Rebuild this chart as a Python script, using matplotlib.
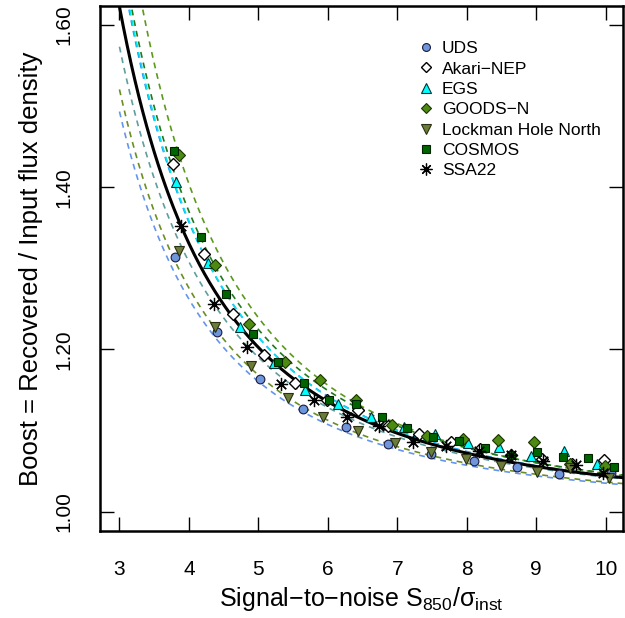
import numpy as np
import matplotlib
matplotlib.use("Agg")
import matplotlib.pyplot as plt

plt.rcParams['font.family'] = ['Liberation Sans', 'DejaVu Sans']
plt.rcParams['mathtext.fontset'] = 'custom'
plt.rcParams['mathtext.rm'] = 'Liberation Sans'
plt.rcParams['mathtext.it'] = 'Liberation Sans'

# ---- data ----
uds_x = [3.80, 4.41, 5.02, 5.64, 6.26, 6.87, 7.49, 8.10, 8.72, 9.33, 10.08]
uds_y = [1.314, 1.221, 1.164, 1.126, 1.104, 1.083, 1.071, 1.0625, 1.055, 1.0465, 1.048]

akari_x = [3.77, 4.22, 4.64, 5.08, 5.53, 5.99, 6.43, 6.87, 7.31, 7.77, 8.19, 8.63, 9.09, 9.51, 9.97]
akari_y = [1.429, 1.317, 1.243, 1.193, 1.158, 1.138, 1.125, 1.105, 1.095, 1.086, 1.077, 1.070, 1.065, 1.058, 1.064]

egs_x = [3.82, 4.27, 4.73, 5.22, 5.67, 6.14, 6.62, 7.09, 7.54, 8.02, 8.47, 8.93, 9.40, 9.87]
egs_y = [1.406, 1.307, 1.227, 1.183, 1.150, 1.133, 1.116, 1.104, 1.095, 1.085, 1.079, 1.069, 1.075, 1.059]

goodsn_x = [3.86, 4.37, 4.87, 5.39, 5.89, 6.41, 6.92, 7.43, 7.95, 8.45, 8.97, 9.49, 9.99]
goodsn_y = [1.440, 1.304, 1.231, 1.185, 1.162, 1.137, 1.107, 1.093, 1.089, 1.088, 1.086, 1.058, 1.056]

lhn_x = [3.86, 4.38, 4.90, 5.42, 5.93, 6.44, 6.97, 7.48, 7.99, 8.50, 9.01, 9.49, 10.05]
lhn_y = [1.321, 1.228, 1.179, 1.140, 1.117, 1.099, 1.084, 1.073, 1.065, 1.056, 1.049, 1.0535, 1.041]

cosmos_x = [3.79, 4.17, 4.54, 4.92, 5.28, 5.65, 6.02, 6.41, 6.78, 7.14, 7.51, 7.89, 8.26, 8.63, 9.01, 9.38, 9.75, 10.12]
cosmos_y = [1.445, 1.338, 1.268, 1.219, 1.185, 1.158, 1.138, 1.132, 1.116, 1.103, 1.092, 1.087, 1.078, 1.070, 1.073, 1.067, 1.0666, 1.055]

ssa22_x = [3.89, 4.36, 4.83, 5.32, 5.80, 6.27, 6.74, 7.22, 7.70, 8.18, 8.63, 9.10, 9.58, 9.96]
ssa22_y = [1.352, 1.256, 1.203, 1.157, 1.138, 1.117, 1.106, 1.086, 1.081, 1.075, 1.070, 1.062, 1.0576, 1.048]

# fitted boost models  B = 1 + A * snr^(-alpha)
fit_names = ['UDS', 'Akari-NEP', 'EGS', 'GOODS-N', 'Lockman Hole North', 'COSMOS', 'SSA22']
fit_A = [5.53, 8.30, 8.57, 10.5, 5.90, 8.26, 6.15]
fit_alpha = [2.20, 2.27, 2.29, 2.35, 2.21, 2.24, 2.16]
global_A = 6.98
global_alpha = 2.20

x_ticks = [3, 4, 5, 6, 7, 8, 9, 10]
y_ticks = [1.00, 1.20, 1.40, 1.60]

# ---- styling ----
fit_colors = ['#6495ED', '#1E90FF', '#00E5EE', '#5A9A1A', '#6B8E23', '#1E7A1E', '#5F9EA0']

series = [
    ('UDS', uds_x, uds_y, dict(marker='o', ms=6.3, mfc='#6F95DA', mec='#1a1a40', mew=0.8)),
    ('Akari\u2212NEP', akari_x, akari_y, dict(marker='D', ms=6.0, mfc='white', mec='black', mew=1.0)),
    ('EGS', egs_x, egs_y, dict(marker='^', ms=7.8, mfc='#00FFFF', mec='#003333', mew=0.8)),
    ('GOODS\u2212N', goodsn_x, goodsn_y, dict(marker='D', ms=6.0, mfc='#4C8A12', mec='#1a3300', mew=0.8)),
    ('Lockman Hole North', lhn_x, lhn_y, dict(marker='v', ms=7.8, mfc='#6B7B3A', mec='#2a3010', mew=0.8)),
    ('COSMOS', cosmos_x, cosmos_y, dict(marker='s', ms=6.0, mfc='#006400', mec='#002200', mew=0.8)),
    ('SSA22', ssa22_x, ssa22_y, dict(marker=(8, 2, 0), ms=9.5, mfc='black', mec='black', mew=0.9)),
]

fig = plt.figure(figsize=(6.25, 6.18), dpi=100)
ax = fig.add_axes([0.16, 0.1408, 0.8363, 0.8495])

xx = np.linspace(3.0, 10.4, 400)
for name, A, al, c in zip(fit_names, fit_A, fit_alpha, fit_colors):
    ax.plot(xx, 1 + A * xx ** (-al), ls=(0, (3.5, 3)), lw=1.2, color=c, zorder=2)
ax.plot(xx, 1 + global_A * xx ** (-global_alpha), color='black', lw=2.2, zorder=3)

handles = []
for label, x, y, st in series:
    h, = ax.plot(x, y, ls='none', label=label, zorder=4, **st)
    handles.append(h)

ax.set_xlim(2.72, 10.245)
ax.set_ylim(0.976, 1.6234)
ax.set_xticks(x_ticks)
ax.set_yticks(y_ticks)
ax.set_yticklabels([f'{v:.2f}' for v in y_ticks], rotation=90, va='center')
ax.tick_params(direction='in', length=10, width=1.0, top=True, right=True,
               labelsize=15, pad=21)
ax.tick_params(axis='y', pad=19)
for s in ax.spines.values():
    s.set_linewidth(1.8)

ax.set_xlabel(r'Signal$-$to$-$noise S$_{850}$/$\sigma_{\mathrm{inst}}$', fontsize=18, labelpad=4)
ax.set_ylabel('Boost = Recovered / Input flux density', fontsize=18.5, labelpad=8)

leg = ax.legend(handles=handles, loc='upper left', bbox_to_anchor=(0.581, 0.963),
                frameon=False, fontsize=12.5, handlelength=0.8, handletextpad=0.5,
                labelspacing=0.3, markerscale=0.9)

fig.savefig('out.png', dpi=100)
